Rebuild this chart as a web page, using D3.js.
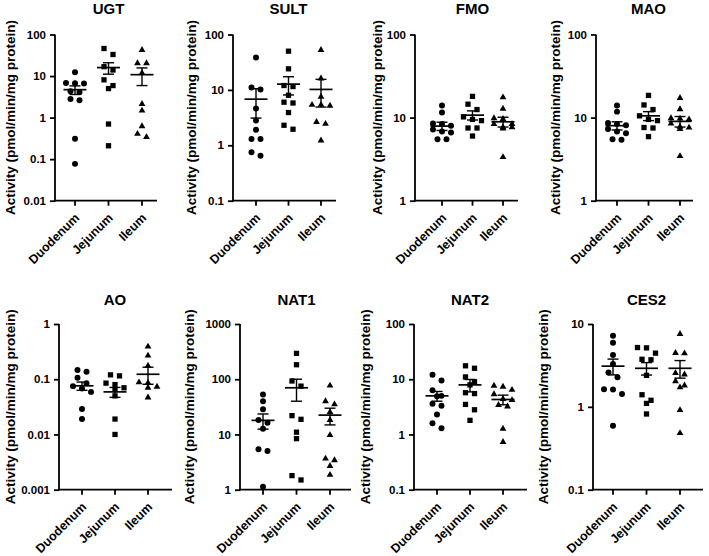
<!DOCTYPE html>
<html><head><meta charset="utf-8">
<script src="https://cdn.jsdelivr.net/npm/d3@7"></script>
<style>
body{margin:0;background:#fff}
svg{display:block}
text{font-family:"Liberation Sans",Arial,Helvetica,sans-serif;font-weight:bold;fill:#000}
</style>
</head><body>
<svg id="chart" width="709" height="556"></svg>
<script>
// ---------------- DATA ----------------
const regions = ["Duodenum", "Jejunum", "Ileum"];
const enzymes = ["UGT", "SULT", "FMO", "MAO", "AO", "NAT1", "NAT2", "CES2"];
const yLabel = "Activity (pmol/min/mg protein)";

// individual values per region [Duodenum, Jejunum, Ileum]
const ugt = [[12.3, 6.8, 6.7, 6.6, 4.3, 4.1, 2.8, 2.6, 0.31, 0.077],
             [46, 33, 16.8, 14, 8.1, 5.9, 5.0, 0.7, 0.21],
             [44, 21, 21, 12.3, 2.2, 1.52, 0.64, 0.42, 0.35]];
const ugtMean = [4.7, 16.0, 10.8], ugtSem = [1.1, 4.9, 4.9];
const ugtTicks = [0.01, 0.1, 1, 10, 100];

const sult = [[38.5, 11, 10.2, 4.6, 2.8, 1.9, 1.3, 1.3, 0.75, 0.65],
              [50, 24, 12, 11.5, 8, 6, 5.8, 3.9, 2.3, 1.95],
              [54, 16.5, 7.7, 5.5, 5.5, 5.3, 2.7, 2.5, 1.25]];
const sultMean = [6.8, 12.7, 10.2], sultSem = [3.7, 4.6, 5.3];
const sultTicks = [0.1, 1, 10, 100];

const fmo = [[14, 11.5, 8.5, 8.4, 8.0, 7.2, 6.8, 6.6, 5.5, 5.5],
             [18, 14.5, 12.5, 10.2, 9.5, 9.2, 7.5, 7.5, 6.0],
             [17.8, 13, 10, 9.8, 8.5, 8.5, 7.8, 7.8, 7.5, 3.4]];
const fmoMean = [7.9, 10.7, 8.9], fmoSem = [0.9, 1.35, 1.2];
const fmoTicks = [1, 10, 100];

const mao = [[14, 11.8, 8.6, 8.4, 8.1, 7.3, 6.8, 6.5, 5.5, 5.4],
             [18.5, 14.2, 12.5, 10.5, 9.5, 9.2, 7.6, 7.5, 5.9],
             [17.5, 12.8, 10, 9.9, 9.7, 8.6, 7.9, 7.7, 7.4, 3.5]];
const maoMean = [8.0, 10.5, 9.0], maoSem = [0.9, 1.3, 1.3];
const maoTicks = [1, 10, 100];

const ao = [[0.147, 0.137, 0.106, 0.085, 0.075, 0.068, 0.059, 0.029, 0.019],
            [0.12, 0.115, 0.085, 0.08, 0.07, 0.065, 0.05, 0.019, 0.01],
            [0.4, 0.275, 0.18, 0.09, 0.088, 0.075, 0.072, 0.048]];
const aoMean = [0.076, 0.059, 0.123], aoSem = [0.013, 0.012, 0.042];
const aoTicks = [0.001, 0.01, 0.1, 1];

const nat1 = [[53, 40, 28.5, 18.2, 16.3, 12.7, 5.4, 5.0, 1.13],
              [294, 183, 93, 75, 21.9, 18.8, 11, 8.4, 1.8, 1.5],
              [78.5, 41, 36, 26, 18.8, 10, 3.75, 3.5, 2.75, 1.9]];
const nat1Mean = [18, 70, 22.4], nat1Sem = [5.5, 30, 7.5];
const nat1Ticks = [1, 10, 100, 1000];

const nat2 = [[12, 9.5, 6.3, 5.0, 4.9, 3.6, 3.3, 2.3, 1.6, 1.3],
              [17.5, 15.8, 11, 9, 7.9, 5.7, 5.5, 3.5, 2.8, 1.8],
              [7.8, 7.5, 6.6, 5.5, 4.5, 4.3, 3.5, 3.3, 1.3, 0.75]];
const nat2Mean = [5.0, 7.9, 4.3], nat2Sem = [1.0, 2.0, 0.85];
const nat2Ticks = [0.1, 1, 10, 100];

const ces2 = [[7.2, 5.95, 4.23, 3.3, 2.6, 2.27, 1.63, 1.62, 1.43, 0.59],
              [5.2, 5.15, 4.45, 3.75, 3.7, 2.4, 1.4, 1.2, 1.1, 0.82],
              [7.7, 4.55, 4.5, 2.6, 2.5, 2.07, 1.84, 1.75, 0.93, 0.49]];
const ces2Mean = [3.1, 2.92, 2.92], ces2Sem = [0.67, 0.5, 0.7];
const ces2Ticks = [0.1, 1, 10];

// ---------------- LAYOUT ----------------
const rows = [{top: 34.5, bot: 200.7, titleY: 14}, {top: 324, bot: 489.7, titleY: 305}];
const panels = [
  {name: enzymes[0], vals: ugt,  mean: ugtMean,  sem: ugtSem,  ticks: ugtTicks,  row: 0, L: 55,  R: 157, c0: 75,  c2: 142, lx: 10},
  {name: enzymes[1], vals: sult, mean: sultMean, sem: sultSem, ticks: sultTicks, row: 0, L: 233, R: 336, c0: 256, c2: 321, lx: 191},
  {name: enzymes[2], vals: fmo,  mean: fmoMean,  sem: fmoSem,  ticks: fmoTicks,  row: 0, L: 415, R: 518, c0: 442, c2: 503, lx: 377},
  {name: enzymes[3], vals: mao,  mean: maoMean,  sem: maoSem,  ticks: maoTicks,  row: 0, L: 596, R: 693, c0: 617, c2: 680, lx: 555},
  {name: enzymes[4], vals: ao,   mean: aoMean,   sem: aoSem,   ticks: aoTicks,   row: 1, L: 59,  R: 172, c0: 82,  c2: 148, lx: 10},
  {name: enzymes[5], vals: nat1, mean: nat1Mean, sem: nat1Sem, ticks: nat1Ticks, row: 1, L: 240, R: 351, c0: 263, c2: 330, lx: 189},
  {name: enzymes[6], vals: nat2, mean: nat2Mean, sem: nat2Sem, ticks: nat2Ticks, row: 1, L: 414, R: 527, c0: 437, c2: 503, lx: 365},
  {name: enzymes[7], vals: ces2, mean: ces2Mean, sem: ces2Sem, ticks: ces2Ticks, row: 1, L: 593, R: 703, c0: 613, c2: 680, lx: 543}
];
const symbols = [d3.symbolCircle, d3.symbolSquare, d3.symbolTriangle];
const symSizes = [28, 28, 20];
const AX = 1.8;   // axis stroke
const LW = 1.4;   // mean/sem stroke

const svg = d3.select("#chart");

// simple row-based swarm: values closer than `thr` px share a row, spread symmetrically
function swarm(ys, thr, step) {
  const idx = ys.map((y, i) => i).sort((a, b) => ys[a] - ys[b]);
  const off = new Array(ys.length).fill(0);
  let i = 0;
  while (i < idx.length) {
    const grp = [idx[i]];
    let j = i + 1;
    while (j < idx.length && ys[idx[j]] - ys[idx[i]] < thr && grp.length < 3) { grp.push(idx[j]); j++; }
    grp.sort((a, b) => a - b);
    grp.forEach((g, k) => off[g] = (k - (grp.length - 1) / 2) * step);
    i = j;
  }
  return off;
}

panels.forEach(p => {
  const r = rows[p.row];
  const g = svg.append("g");
  const y = d3.scaleLog().domain([p.ticks[0], p.ticks[p.ticks.length - 1]]).range([r.bot, r.top]);
  const x = d3.scalePoint().domain(regions).range([p.c0, p.c2]);

  // y axis
  const ya = g.append("g").attr("transform", `translate(${p.L},0)`)
    .call(d3.axisLeft(y).tickValues(p.ticks).tickFormat(d => String(d)).tickSize(5).tickPadding(4).tickSizeOuter(0));
  ya.select(".domain").attr("stroke-width", AX).attr("d", `M0,${r.top}V${r.bot + AX / 2}`);
  ya.selectAll(".tick line").attr("stroke-width", AX);
  ya.selectAll(".tick text").style("font-size", "11.5px").style("font-weight", "bold")
    .style("font-family", '"Liberation Sans",Arial,sans-serif');

  // x axis
  g.append("line").attr("x1", p.L - AX / 2).attr("x2", p.R).attr("y1", r.bot).attr("y2", r.bot)
    .attr("stroke", "#000").attr("stroke-width", AX);
  regions.forEach(c => {
    g.append("line").attr("x1", x(c)).attr("x2", x(c)).attr("y1", r.bot).attr("y2", r.bot + 5)
      .attr("stroke", "#000").attr("stroke-width", AX);
    g.append("text").attr("transform", `translate(${x(c) + 5},${r.bot + 18}) rotate(-45)`)
      .attr("text-anchor", "end").style("font-size", "12.5px").text(c);
  });

  // title
  g.append("text").attr("x", x(regions[1])).attr("y", r.titleY).attr("text-anchor", "middle")
    .style("font-size", "15px").text(p.name);

  // y label
  g.append("text").attr("transform", `translate(${p.lx},${(r.top + r.bot) / 2}) rotate(-90)`)
    .attr("text-anchor", "middle").attr("dy", "0.35em").style("font-size", "13.5px").text(yLabel);

  // points
  p.vals.forEach((vals, ci) => {
    const ys = vals.map(v => y(v));
    const offs = swarm(ys, 6, 9);
    const sym = d3.symbol().type(symbols[ci]).size(symSizes[ci]);
    g.selectAll(null).data(vals).enter().append("path")
      .attr("d", sym)
      .attr("transform", (v, i) => `translate(${x(regions[ci]) + offs[i]},${y(v) + (ci === 2 ? 0.6 : 0)})`)
      .attr("fill", "#000");
  });

  // mean and SEM
  regions.forEach((c, ci) => {
    const cx = x(c), m = p.mean[ci], s = p.sem[ci];
    const yu = y(m + s), yl = y(m - s), ym = y(m);
    g.append("line").attr("x1", cx - 11.5).attr("x2", cx + 11.5).attr("y1", ym).attr("y2", ym)
      .attr("stroke", "#000").attr("stroke-width", LW + 0.3);
    g.append("line").attr("x1", cx).attr("x2", cx).attr("y1", yu).attr("y2", yl)
      .attr("stroke", "#000").attr("stroke-width", LW);
    [yu, yl].forEach(yy => g.append("line").attr("x1", cx - 5.5).attr("x2", cx + 5.5)
      .attr("y1", yy).attr("y2", yy).attr("stroke", "#000").attr("stroke-width", LW));
  });
});
</script>
</body></html>
